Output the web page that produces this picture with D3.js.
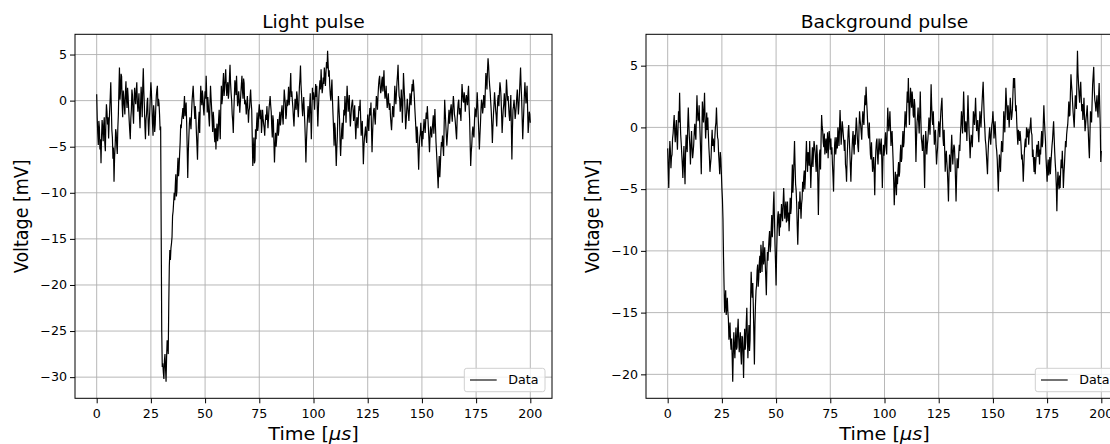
<!DOCTYPE html>
<html>
<head>
<meta charset="utf-8">
<script src="https://cdn.jsdelivr.net/npm/d3@7"></script>
<style>
  html, body { margin: 0; padding: 0; background: #fff; }
  svg { display: block; font-family: "DejaVu Sans", sans-serif; }
</style>
</head>
<body>
<svg id="chart" width="1110" height="444"></svg>
<script>
// Sampling step of both traces, in microseconds
const timeStep = 0.25;

// Light pulse trace [mV], one sample every 0.25 µs from 0 to 200 µs (20 samples per row)
const lightPulse = [
  0.7, -1.9, -3.6, -4.8, -2.2, -2.9, -5.3, -4.2, -6.8, -3.9, -2.1, -3.0, -4.4, -2.6, -1.8, -4.6, -5.5, -2.2, -0.4, -1.2,
  -2.6, -1.8, -4.1, -2.4, -1.0, 0.4, 2.0, -0.6, -3.2, -4.0, -6.3, -5.1, -8.8, -6.2, -5.0, -3.1, -3.5, -4.9, -5.8, -3.0,
  -1.5, 1.2, 3.6, 0.1, 1.0, 2.9, 2.6, -0.4, -1.8, 1.1, 0.4, -0.6, -1.5, 0.9, 2.1, 0.2, -0.8, 1.4, 0.5, -1.0,
  -2.2, -3.3, -4.2, -1.9, -1.0, 1.2, 0.6, -1.4, -2.5, -0.1, 1.4, 0.3, -0.4, 1.1, 2.0, -0.1, -1.2, -0.2, 0.8, -1.6,
  -3.0, -0.4, 1.5, 0.2, -1.8, 1.6, 3.5, 1.0, -0.6, -2.8, -4.2, -2.0, -1.5, -0.2, 0.3, -2.4, -3.8, -2.2, -1.0, 0.6,
  2.0, 0.9, -0.8, -2.5, -3.8, -0.5, -1.2, -3.4, -2.6, -0.8, 0.5, 1.2, 1.6, -0.6, 0.2, -0.3, -1.5, -3.2, -2.8, -14.0,
  -25.0, -28.9, -28.5, -29.5, -30.2, -28.2, -27.5, -29.0, -30.5, -27.8, -26.0, -26.3, -27.5, -22.0, -18.0, -16.2, -17.3, -16.0, -15.5, -14.8,
  -12.5, -12.0, -11.0, -10.0, -10.8, -9.2, -8.0, -10.4, -9.8, -7.6, -6.2, -8.2, -7.4, -5.8, -4.5, -2.6, -3.0, -2.0, -1.5, -0.8,
  -2.0, -0.6, 0.5, -1.7, -1.0, -0.2, -2.4, -5.2, -8.4, -5.6, -4.0, -2.5, -1.8, -2.4, -3.1, -1.4, 0.0, 0.8, 1.6, 0.3,
  -0.8, -2.0, -0.6, -1.8, -3.5, -4.9, -6.4, -3.8, -2.2, -1.2, -3.5, -0.6, 1.6, 0.2, -0.5, 1.1, 0.4, -0.9, -1.6, 0.0,
  1.0, 0.2, 2.7, 0.6, -1.3, 0.4, -0.5, -1.9, -2.8, -0.4, 1.6, 0.3, -0.8, -2.2, -3.4, -1.2, -2.0, -3.6, -4.5, -3.0,
  -5.3, -3.4, -2.5, -4.4, -3.8, -2.0, -1.0, -2.8, -4.2, -0.6, 1.6, -0.4, 0.2, 1.9, 3.0, 0.5, 1.2, 2.4, 3.4, 1.8,
  0.5, 1.6, 2.0, 0.2, 1.0, 2.6, 3.9, 1.9, 0.8, 0.0, -1.5, -2.2, -3.5, -1.2, 0.5, 2.2, 1.5, 0.6, 2.7, 1.0,
  -0.6, -0.1, 1.0, 0.0, -1.3, -0.2, 0.8, 1.8, 2.7, 1.1, 0.2, 2.4, 1.9, -0.4, 0.1, -0.5, -1.5, -0.3, 0.5, -0.9,
  -2.4, -1.1, -0.8, 0.4, 1.2, -0.2, -1.0, -4.0, -7.1, -5.5, -4.0, -6.8, -6.5, -3.1, -4.2, -2.6, -1.3, -3.3, -2.8, -1.2,
  -0.4, -1.6, -2.0, -1.0, -3.5, -2.6, -1.0, -1.9, -2.5, -3.0, -3.8, -2.4, -1.5, -2.1, -0.6, -1.7, -3.0, -1.9, -0.8, -0.2,
  0.5, -0.5, -1.2, -2.9, -4.0, -1.6, -2.2, -4.6, -6.7, -4.9, -3.5, -5.0, -4.2, -3.0, -2.0, -3.8, -3.3, -1.9, -1.2, -2.7,
  -2.0, -1.1, -0.5, -1.8, -2.6, -0.6, 1.2, 0.4, -0.3, -2.0, -1.5, 0.1, -0.6, 0.2, 1.5, -0.5, 0.2, 1.6, 3.0, 0.4,
  1.0, 0.0, -0.8, -1.9, -2.8, -1.2, 0.2, -0.4, -1.0, 1.0, 0.5, -0.9, -1.8, -0.2, 1.5, 2.4, 3.8, 1.7, 0.6, -0.8,
  -1.7, -0.4, 0.4, -1.1, -2.5, -4.3, -6.7, -4.4, -3.0, -1.8, -0.6, -1.5, -2.4, -0.5, 0.8, -1.6, -4.2, -1.5, 1.4, 0.1,
  0.9, 0.2, -1.0, 0.6, 1.8, 0.4, 1.6, -0.8, -2.8, -1.0, 0.5, 1.5, 2.2, 1.2, 3.4, 2.0, 0.8, 1.4, 2.5, 1.8,
  3.6, 2.8, 1.6, 3.0, 4.2, 3.5, 5.4, 4.0, 2.6, 3.3, 1.6, 0.6, 0.0, 1.2, 2.3, 0.1, -1.5, -3.0, -4.9, -2.4,
  -3.0, -5.1, -7.1, -5.2, -3.8, -1.4, 0.5, -0.8, -2.0, -4.4, -6.0, -4.5, -3.1, -2.4, -4.2, -2.5, -1.0, -1.6, 0.5, -0.6,
  -2.4, -0.2, 1.6, 0.3, -1.2, -0.4, 0.6, -1.5, -2.8, -1.8, -0.8, -0.2, 0.1, -1.0, -2.2, -1.4, -0.5, -2.6, -4.2, -2.8,
  -1.8, -2.1, -3.0, -1.5, -0.6, -1.1, 0.1, -1.9, -3.8, -2.9, -2.2, -4.4, -6.9, -5.1, -4.0, -3.5, -2.8, -3.9, -4.6, -2.8,
  -1.5, -2.6, -3.3, -1.7, -0.8, -1.6, -0.2, -3.1, -5.6, -3.6, -2.0, -1.0, -0.8, -1.9, -2.6, -0.9, 0.5, 0.0, -1.0, 0.5,
  1.6, 2.3, 2.7, 1.5, 0.8, 1.2, 2.2, 2.6, 1.0, 2.1, 3.3, 1.1, 0.2, 0.7, 1.6, 0.2, -0.8, 0.0, 0.8, -0.4,
  -1.0, -0.3, -1.7, -2.5, -3.2, -1.9, -0.6, -0.9, -1.8, -0.2, 1.6, 0.4, -0.4, 0.8, 2.0, 2.8, 3.9, 1.8, 0.5, 0.2,
  -1.2, -0.4, 1.2, -0.3, -2.4, 0.1, 3.0, 1.6, 0.4, -1.2, -3.1, -2.2, -1.0, 0.2, -0.6, -1.4, -2.2, -0.9, 0.8, 0.1,
  -0.5, 0.9, 1.8, 1.0, 2.3, 1.5, 0.4, -0.9, -2.0, -3.2, -4.6, -2.8, -3.5, -5.6, -7.5, -5.4, -4.0, -3.6, -2.4, -3.8,
  -5.0, -3.3, -4.2, -2.9, -2.0, -2.8, -3.5, -2.2, -1.3, -2.0, -0.6, -1.8, -3.0, -4.3, -5.6, -3.9, -2.8, -3.2, -4.0, -3.1,
  -2.4, -1.6, -3.6, -2.4, -0.9, -2.8, -4.5, -5.6, -6.8, -8.2, -9.5, -7.4, -6.0, -8.3, -7.1, -5.5, -4.5, -5.0, -3.8, -5.1,
  -6.0, -2.8, 0.1, -1.2, -2.5, -3.7, -4.9, -3.9, -3.0, -2.0, -1.0, -2.5, -1.7, -0.9, -0.4, -1.5, -2.3, -0.7, 0.5, -0.3,
  -1.5, -1.9, -2.6, -3.5, -4.2, -2.1, -1.0, -0.2, 0.1, -1.5, -0.8, -1.4, -2.2, -0.1, 1.8, 0.9, 0.0, -0.2, 0.9, 0.2,
  -1.2, -0.1, 0.6, 0.1, -0.5, 0.8, 1.6, -0.6, -2.0, -4.6, -7.1, -5.6, -4.8, -3.5, -2.8, -3.6, -4.0, -2.2, -0.9, -1.0,
  -1.8, -0.6, 0.9, -0.4, -2.0, -3.6, -5.3, -3.8, -2.5, -0.9, 0.1, -0.3, -1.4, -0.8, 0.6, 0.2, -0.8, 1.2, 3.0, 2.2,
  1.2, 3.3, 4.6, 3.8, 2.5, 1.6, 0.9, -0.2, -1.2, -2.8, -4.6, -2.9, -1.5, -0.4, 0.9, 0.0, -1.0, -1.6, -2.8, -1.1,
  0.2, 0.6, -0.6, 0.9, 2.0, 1.4, 0.4, -1.5, -3.5, -2.2, -1.0, -0.4, 0.8, -0.3, -1.8, 0.4, 2.3, 1.2, 0.0, 0.5,
  -0.6, -1.6, -2.2, -0.9, 0.6, -2.8, -6.4, -3.2, -1.0, -0.6, 0.1, -0.8, -2.0, -1.4, -0.6, 0.4, 1.2, -0.2, -1.5, -0.5,
  0.8, 2.2, 3.6, 1.6, 0.2, -2.0, -4.2, -2.6, -1.0, 0.6, 2.0, 0.8, -0.3, 0.5, 1.6, -0.9, -3.5, -2.6, -1.2, -1.5,
  -2.4
];

// Background pulse trace [mV], one sample every 0.25 µs from 0 to 200 µs (20 samples per row)
const backgroundPulse = [
  -1.7, -3.4, -4.9, -2.6, -1.1, -1.9, -3.3, -2.4, -2.2, -0.9, -0.5, 0.3, 1.0, -0.4, -1.2, -0.1, 0.6, -0.8, -1.8, -0.2,
  1.3, 0.4, 2.8, 0.8, -0.6, -1.3, -2.2, -3.0, -4.1, -2.6, -1.5, -3.2, -4.6, -2.1, -0.6, -1.4, -2.0, 0.2, 1.6, 0.3,
  -0.8, -1.6, -3.0, -1.4, -0.3, -1.6, -2.5, -2.0, -1.4, -0.4, 0.3, -0.5, -1.0, 0.9, 2.6, 1.2, 0.5, 0.8, 1.8, 0.4,
  -0.8, -2.2, -3.8, -0.6, 2.1, 1.2, 0.4, 1.5, 2.8, 0.6, -0.9, 0.1, 1.2, -0.2, 0.8, -0.5, -1.6, -2.4, -3.6, -3.0,
  -2.5, -1.2, -0.2, -1.5, -0.9, -1.3, -2.0, -0.8, 0.0, 0.4, 1.6, 0.3, -0.8, -1.0, -2.2, -2.9, -3.8, -2.0, -2.5, -3.6,
  -4.9, -5.8, -7.4, -10.5, -12.8, -15.0, -14.1, -13.2, -15.2, -14.6, -13.8, -14.9, -15.5, -17.2, -16.6, -15.8, -17.4, -18.0, -17.1, -18.6,
  -20.6, -18.4, -16.6, -17.9, -18.7, -17.2, -16.2, -18.0, -17.8, -16.4, -15.5, -17.1, -18.2, -17.4, -16.6, -18.3, -19.2, -16.9, -17.0, -18.4,
  -20.3, -17.8, -16.3, -18.0, -17.4, -15.8, -14.6, -16.9, -18.7, -17.1, -16.0, -18.1, -17.2, -13.9, -11.7, -13.0, -13.8, -12.6, -14.5, -16.8,
  -19.2, -16.0, -14.3, -13.2, -12.8, -11.6, -11.1, -12.9, -12.2, -11.0, -10.4, -11.8, -9.5, -10.2, -11.7, -10.5, -9.2, -11.1, -10.6, -9.7,
  -11.0, -12.2, -13.6, -11.4, -10.1, -10.8, -9.8, -9.0, -8.4, -10.1, -9.6, -8.2, -7.1, -8.9, -8.0, -6.3, -5.2, -7.4, -9.5, -11.0,
  -12.8, -10.1, -8.4, -7.2, -6.8, -7.9, -8.8, -7.0, -8.1, -7.3, -6.2, -7.0, -7.6, -6.1, -4.9, -6.2, -7.4, -6.6, -6.0, -7.7,
  -6.8, -6.0, -7.6, -6.9, -8.4, -7.2, -5.7, -7.0, -6.5, -4.6, -3.0, -5.3, -4.2, -2.6, -1.1, -3.0, -4.6, -5.1, -6.2, -8.0,
  -9.5, -7.8, -6.0, -6.6, -5.2, -6.3, -7.4, -6.2, -5.8, -4.4, -5.2, -4.0, -3.5, -5.0, -4.1, -2.4, -1.1, -2.6, -3.6, -2.0,
  -2.4, -3.1, -1.1, -2.9, -4.9, -3.4, -2.5, -1.6, -3.2, -2.1, -1.1, -1.5, -2.0, -2.8, -3.6, -1.4, -2.2, -4.3, -7.1, -4.5,
  -2.2, -1.8, -3.4, -1.0, 1.0, 0.1, -0.3, -1.2, -1.6, -0.5, -2.2, -1.4, -0.9, -2.1, -1.4, -0.4, -2.5, -1.2, -0.3, -0.9,
  -1.8, -0.9, -2.2, -1.6, -3.0, -4.0, -5.2, -2.8, -1.4, -0.8, -2.2, -1.6, -0.8, -1.7, 0.0, -0.6, -1.5, -0.1, 1.4, 0.2,
  -1.4, -0.6, 0.5, 0.0, -0.6, -1.2, -1.9, -1.0, -3.0, -3.4, -4.4, -2.6, -1.4, -0.3, 0.2, -0.9, -2.0, -3.2, -4.4, -2.8,
  -1.9, -0.9, -0.3, -1.4, -2.2, -0.6, -1.4, -0.2, 0.8, 0.1, -0.9, -1.6, -2.0, -0.1, 1.3, 0.6, 0.2, -0.4, -1.0, 0.4,
  1.3, 0.6, 0.2, 1.6, 2.6, 1.8, 3.3, 2.2, 1.3, 0.3, -0.6, -0.9, 0.4, -1.1, -2.2, -2.6, -1.2, -2.5, -3.6, -2.9,
  -2.4, -3.6, -5.5, -3.2, -1.9, -1.2, -0.9, -2.2, -3.0, -1.8, -0.9, -1.6, -2.2, -1.3, -0.9, -2.6, -4.9, -2.8, -1.4, -2.3,
  -1.9, -1.0, -0.4, -1.5, -2.2, -0.2, 1.6, 0.5, -0.3, 0.4, 1.3, 0.0, -1.5, -0.6, -0.3, -1.6, -2.8, -4.4, -6.3, -4.9,
  -3.6, -4.4, -5.5, -3.8, -4.6, -3.4, -2.8, -4.0, -3.6, -2.2, -1.4, -2.8, -2.5, -1.2, -0.3, -1.6, -1.2, 0.1, 1.3, 0.5,
  0.0, 1.6, 2.9, 2.0, 4.0, 1.8, 0.2, 1.9, 3.2, 2.4, 1.6, 2.9, 2.2, 1.0, 0.8, 2.3, 1.8, -0.4, -2.8, -1.0,
  0.4, 0.9, 1.6, 0.4, -0.5, 1.2, 2.9, 0.8, -0.9, -1.3, -1.9, -0.9, -0.6, -2.9, -4.9, -2.2, -0.3, -1.0, -2.2, -1.4,
  -1.0, -0.2, 0.8, 0.1, -0.6, 1.4, 3.5, 1.8, 0.6, 0.2, 1.3, -0.1, -1.4, -0.5, -0.2, -1.8, -3.0, -2.2, -1.6, -0.4,
  0.5, 0.2, -0.8, 0.4, 1.3, 1.9, 2.4, 0.6, -0.9, -1.5, -0.2, -1.8, -3.6, -2.4, -1.9, -2.8, -3.5, -4.6, -6.0, -3.8,
  -2.2, -2.9, -3.6, -1.8, -0.6, -1.9, -3.0, -2.0, -1.4, -1.6, -2.6, -4.2, -6.0, -4.1, -2.5, -3.1, -3.3, -2.2, -1.4, -1.9,
  -0.6, 0.2, 1.3, 0.6, -0.5, 1.2, 2.9, 1.4, -0.3, -0.4, 0.5, 0.1, -1.1, 0.8, 2.6, 1.0, -0.3, -1.3, -2.5, -1.4,
  -0.6, -0.9, -1.6, -0.2, 1.3, 0.9, 0.2, 1.1, 2.4, 1.0, -0.3, 0.2, 0.6, -0.4, -1.2, 0.1, 1.3, 0.7, 0.0, 1.1,
  2.0, 2.9, 3.7, 2.2, 0.8, 0.0, -1.0, -1.4, -2.2, -3.0, -3.8, -2.2, -1.2, -0.6, 0.0, -0.9, -1.4, -0.5, 0.2, 0.5,
  1.3, 0.4, -0.9, -0.2, 0.5, -0.6, -1.5, -1.9, -2.6, -4.0, -5.2, -3.4, -2.2, -2.9, -3.6, -2.2, -1.1, -1.8, -2.0, -0.5,
  1.3, 0.3, -0.4, 1.5, 3.2, 2.2, 1.3, 0.6, 1.8, 1.0, 0.0, 1.1, 2.4, 1.6, 0.6, 0.9, 1.5, 2.8, 4.0, 3.2,
  4.0, 2.6, 1.3, 1.8, 0.4, -0.6, -1.4, -0.2, -0.6, -1.1, -0.3, -0.8, -1.5, -2.6, -2.2, -3.1, -4.4, -3.2, -2.0, -1.3,
  -0.9, -1.6, 0.0, -0.8, -0.6, -0.1, -1.4, -0.5, -0.2, 0.2, 0.8, -0.4, -0.6, -2.4, -1.8, -2.8, -3.6, -2.4, -3.8, -2.9,
  -2.2, -1.4, -1.5, -2.4, -1.1, -1.9, -3.0, -1.8, -2.2, -1.0, -0.3, -1.6, -1.2, 0.4, 1.8, 0.6, -0.3, -1.1, -2.5, -3.4,
  -4.4, -3.2, -2.6, -3.9, -3.3, -2.4, -3.8, -2.9, -2.2, -1.5, -1.0, -0.2, 0.5, -0.8, -2.0, -2.9, -3.6, -4.8, -6.8, -4.6,
  -3.6, -4.5, -5.0, -3.9, -4.9, -3.5, -2.6, -3.3, -1.9, -3.2, -4.9, -3.8, -3.0, -2.0, -1.1, -1.6, -0.6, -0.1, 0.2, 1.0,
  2.1, 0.9, 1.0, 2.8, 4.3, 3.5, 2.9, 2.0, 1.2, 0.6, 0.0, 1.4, 2.6, 2.0, 1.5, 3.8, 6.2, 4.4, 3.5, 2.6,
  2.0, 3.0, 3.7, 2.4, 1.3, 1.9, 0.6, 1.4, 2.4, 0.8, -0.3, 0.2, 0.8, 1.2, 1.8, 0.6, -0.4, -1.6, -2.5, -0.6,
  1.3, 0.9, 0.4, 2.0, 3.5, 4.2, 4.9, 3.0, 2.2, 1.9, 1.3, 2.0, 2.6, 1.4, 0.8, 2.5, 3.6, 1.8, 0.2, -2.8,
  -1.9
];

// Axis ticks
const timeTicks = [0, 25, 50, 75, 100, 125, 150, 175, 200];
const lightVoltageTicks = [-30, -25, -20, -15, -10, -5, 0, 5];
const backgroundVoltageTicks = [-20, -15, -10, -5, 0, 5];

const panelTitles = ["Light pulse", "Background pulse"];
const xLabel = "Time [";
const xLabelMath = "\u03bcs";
const yLabel = "Voltage [mV]";
const legendLabel = "Data";

const svg = d3.select("#chart");
const textStretch = 1.1;      // horizontal scaling applied to every label
const fmtTick = d => (d < 0 ? "\u2212" + Math.abs(d) : String(d));

// Places a horizontally stretched text element with its anchor at (x, y)
function label(g, x, y, str, size, anchor, rotate) {
  return g.append("text")
    .attr("transform", `translate(${x},${y})` + (rotate ? ` rotate(${rotate})` : "") +
      (rotate ? ` scale(1,${textStretch})` : ` scale(${textStretch},1)`))
    .attr("font-size", size)
    .attr("text-anchor", anchor)
    .attr("fill", "#000")
    .text(str);
}

function padDomain([lo, hi], frac) {
  const p = (hi - lo) * frac;
  return [lo - p, hi + p];
}

function drawPanel(opts) {
  const { left, right, top, bottom, values, yTicks, title } = opts;
  const g = svg.append("g");
  const samples = values.map((v, i) => ({ t: i * timeStep, v }));

  const x = d3.scaleLinear()
    .domain(padDomain(d3.extent(samples, d => d.t), 0.05))
    .range([left, right]);
  const y = d3.scaleLinear()
    .domain(padDomain(d3.extent(samples, d => d.v), 0.05))
    .range([bottom, top]);

  const clipId = "clip-" + Math.round(left);
  svg.append("clipPath").attr("id", clipId)
    .append("rect").attr("x", left).attr("y", top)
    .attr("width", right - left).attr("height", bottom - top);

  // grid
  const grid = g.append("g").attr("stroke", "#b0b0b0").attr("stroke-width", 0.9);
  grid.selectAll("line.v").data(timeTicks).join("line")
    .attr("x1", d => x(d)).attr("x2", d => x(d))
    .attr("y1", top).attr("y2", bottom);
  grid.selectAll("line.h").data(yTicks).join("line")
    .attr("x1", left).attr("x2", right)
    .attr("y1", d => y(d)).attr("y2", d => y(d));

  // trace
  const line = d3.line().x(d => x(d.t)).y(d => y(d.v));
  g.append("path")
    .datum(samples)
    .attr("clip-path", `url(#${clipId})`)
    .attr("fill", "none")
    .attr("stroke", "#000")
    .attr("stroke-width", 1.2)
    .attr("d", line);

  // axes with outward ticks
  const xAxis = g.append("g").attr("transform", `translate(0,${bottom})`)
    .call(d3.axisBottom(x).tickValues(timeTicks).tickSize(5).tickPadding(0).tickFormat(() => ""));
  const yAxis = g.append("g").attr("transform", `translate(${left},0)`)
    .call(d3.axisLeft(y).tickValues(yTicks).tickSize(5).tickPadding(0).tickFormat(() => ""));
  [xAxis, yAxis].forEach(a => {
    a.select(".domain").remove();
    a.selectAll("line").attr("stroke", "#000").attr("stroke-width", 1);
  });

  timeTicks.forEach(d => label(g, x(d), bottom + 20, fmtTick(d), 11.5, "middle"));
  yTicks.forEach(d => label(g, left - 8, y(d) + 4.2, fmtTick(d), 11.5, "end"));

  // frame
  g.append("rect")
    .attr("x", left).attr("y", top)
    .attr("width", right - left).attr("height", bottom - top)
    .attr("fill", "none").attr("stroke", "#000").attr("stroke-width", 1);

  const cx = (left + right) / 2;
  label(g, cx, 27.5, title, 17, "middle");

  const xl = label(g, cx, 440, xLabel, 17.5, "middle");
  xl.append("tspan").attr("font-style", "italic").text(xLabelMath);
  xl.append("tspan").text("]");

  label(g, left - 47, (top + bottom) / 2, yLabel, 17.5, "middle", -90);

  // legend
  const lg = g.append("g");
  const lx = right - 87.7, ly = bottom - 30;
  lg.append("rect")
    .attr("x", lx).attr("y", ly).attr("width", 80.7).attr("height", 23.4)
    .attr("rx", 2.5).attr("fill", "#fff").attr("fill-opacity", 0.8)
    .attr("stroke", "#d0d0d0").attr("stroke-width", 1);
  lg.append("line")
    .attr("x1", lx + 5.7).attr("x2", lx + 32.4)
    .attr("y1", ly + 11.7).attr("y2", ly + 11.7)
    .attr("stroke", "#000").attr("stroke-width", 1.1);
  label(lg, lx + 44, ly + 16, legendLabel, 11.5, "start");
}

drawPanel({ left: 75, right: 552, top: 34.3, bottom: 398.3,
  values: lightPulse, yTicks: lightVoltageTicks, title: panelTitles[0] });
drawPanel({ left: 646, right: 1123, top: 34.3, bottom: 398.3,
  values: backgroundPulse, yTicks: backgroundVoltageTicks, title: panelTitles[1] });
</script>
</body>
</html>
